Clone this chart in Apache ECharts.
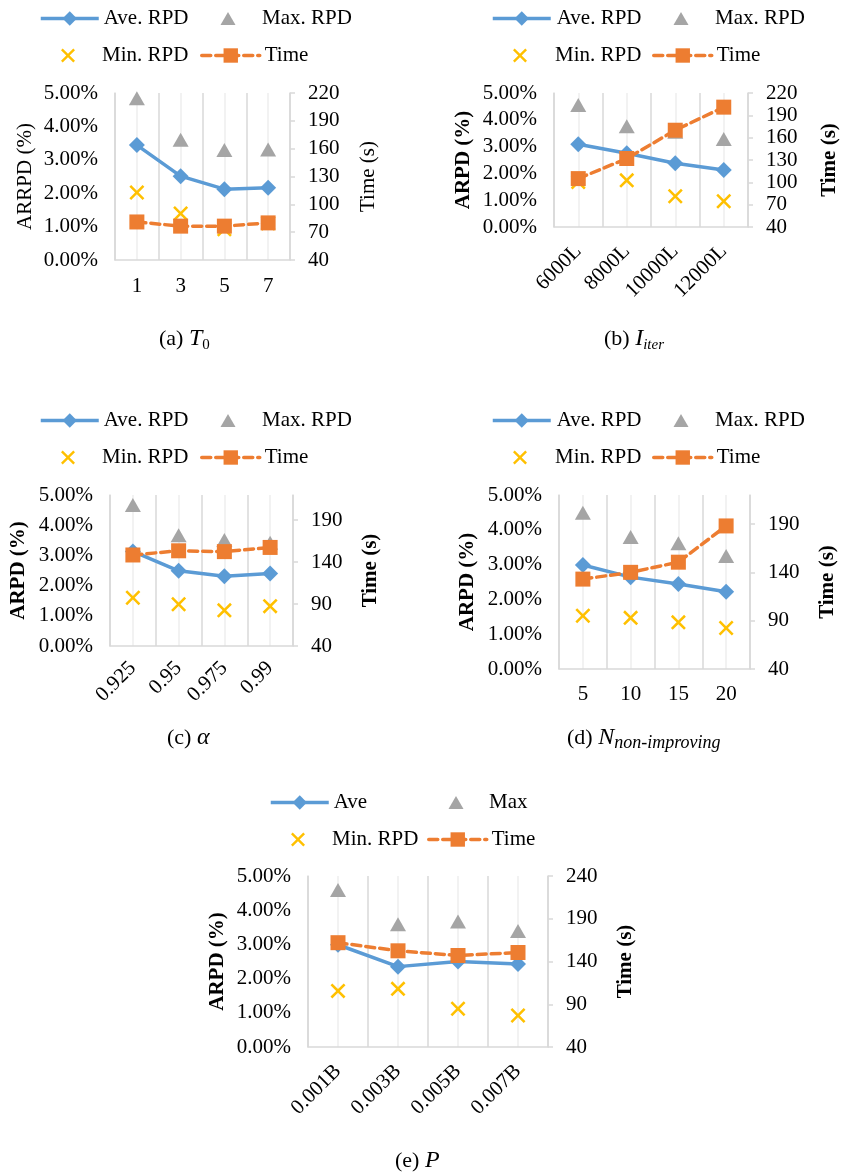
<!DOCTYPE html>
<html><head><meta charset="utf-8">
<script src="https://cdn.jsdelivr.net/npm/echarts@6/dist/echarts.min.js"></script>
<style>html,body{margin:0;padding:0;background:#fff}#c{width:841px;height:1176px}</style>
</head><body><div id="c"></div>
<script>
// ---------- data ----------
const catA = ['1', '3', '5', '7'];
const aveA = [3.44, 2.51, 2.12, 2.16];
const maxA = [4.84, 3.60, 3.29, 3.31];
const minA = [2.02, 1.39, 0.92, 1.10];
const timeA = [81, 76.5, 76.5, 80];

const catB = ['6000L', '8000L', '10000L', '12000L'];
const aveB = [3.09, 2.75, 2.38, 2.13];
const maxB = [4.55, 3.76, 3.55, 3.28];
const minB = [1.68, 1.74, 1.15, 0.96];
const timeB = [105, 132, 170, 201];

const catC = ['0.925', '0.95', '0.975', '0.99'];
const aveC = [3.13, 2.49, 2.31, 2.40];
const maxC = [4.67, 3.67, 3.51, 3.42];
const minC = [1.60, 1.38, 1.18, 1.32];
const timeC = [148.5, 153.5, 152.5, 157.5];

const catD = ['5', '10', '15', '20'];
const aveD = [2.99, 2.64, 2.44, 2.22];
const maxD = [4.49, 3.79, 3.61, 3.25];
const minD = [1.53, 1.47, 1.34, 1.18];
const timeD = [133, 140, 150.5, 188];

const catE = ['0.001B', '0.003B', '0.005B', '0.007B'];
const aveE = [2.99, 2.35, 2.50, 2.43];
const maxE = [4.59, 3.59, 3.67, 3.39];
const minE = [1.64, 1.70, 1.12, 0.92];
const timeE = [162, 152.5, 147, 150.5];

const namesStd = ['Ave. RPD', 'Max. RPD', 'Min. RPD', 'Time'];
const namesE = ['Ave', 'Max', 'Min. RPD', 'Time'];
const leftTicksFmt = v => v.toFixed(2) + '%';

// ---------- layout ----------
const FONT = 'Liberation Serif';
const AXC = '#D9D9D9';
const panels = [
  {cats: catA, ave: aveA, max: maxA, min: minA, time: timeA, names: namesStd,
   grid: {left: 115, top: 93, width: 175, height: 167}, rotate: 0, xMargin: 16,
   tmax: 220, tint: 30, showMax: true, leftName: 'ARRPD (%)', bold: 'normal', lgap: 79, rgap: 68,
   legX: [39, 228, 68, 200], legY: [17, 54], txtX: [102, 262, 102, 263],
   cap: {x: 159, y: 339, text: '{n|(a) }{i|T}{s|0}'}},
  {cats: catB, ave: aveB, max: maxB, min: minB, time: timeB, names: namesStd,
   grid: {left: 554, top: 93, width: 199, height: 134}, rotate: 45, xMargin: 21,
   tmax: 220, tint: 30, showMax: true, leftName: 'ARPD (%)', bold: 'bold', lgap: 80, rgap: 71,
   legX: [491, 681, 520, 652], legY: [17, 54], txtX: [555, 715, 555, 715],
   cap: {x: 604, y: 339, text: '{n|(b) }{i|I}{si|iter}'}},
  {cats: catC, ave: aveC, max: maxC, min: minC, time: timeC, names: namesStd,
   grid: {left: 110, top: 495, width: 183, height: 151}, rotate: 45, xMargin: 19,
   tmax: 220, tint: 50, showMax: false, leftName: 'ARPD (%)', bold: 'bold', lgap: 81, rgap: 67,
   legX: [39, 228, 68, 200], legY: [419, 456], txtX: [102, 262, 102, 263],
   cap: {x: 167, y: 738, text: '{n|(c) }{i|α}'}},
  {cats: catD, ave: aveD, max: maxD, min: minD, time: timeD, names: namesStd,
   grid: {left: 559, top: 495, width: 191, height: 174}, rotate: 0, xMargin: 15,
   tmax: 220, tint: 50, showMax: false, leftName: 'ARPD (%)', bold: 'bold', lgap: 81, rgap: 67,
   legX: [491, 681, 520, 652], legY: [419, 456], txtX: [555, 715, 555, 715],
   cap: {x: 567, y: 738, text: '{n|(d) }{i|N}{sd|non-improving}'}},
  {cats: catE, ave: aveE, max: maxE, min: minE, time: timeE, names: namesE,
   grid: {left: 308, top: 876, width: 240, height: 171}, rotate: 45, xMargin: 21,
   tmax: 240, tint: 50, showMax: true, leftName: 'ARPD (%)', bold: 'bold', lgap: 80, rgap: 67,
   legX: [269, 456, 298, 427], legY: [801, 838], txtX: [332, 489, 332, 489],
   cap: {x: 395, y: 1161, text: '{n|(e) }{i|P}'}}
];

const X_PATH = 'path://M0,1.2 L1.2,0 L5,3.8 L8.8,0 L10,1.2 L6.2,5 L10,8.8 L8.8,10 L5,6.2 L1.2,10 L0,8.8 L3.8,5 Z';
const txt = {fontFamily: FONT, fontSize: 21, color: '#000'};

const option = {animation: false, backgroundColor: '#fff', grid: [], xAxis: [], yAxis: [], series: [], legend: [], graphic: []};

panels.forEach((p, i) => {
  option.grid.push(Object.assign({containLabel: false}, p.grid));
  option.xAxis.push({
    type: 'category', gridIndex: i, data: p.cats, boundaryGap: true,
    axisLine: {show: true, lineStyle: {color: AXC, width: 1.5}},
    axisTick: {show: false},
    splitLine: {show: true, interval: 0, lineStyle: {color: AXC, width: 1.5}},
    axisLabel: Object.assign({}, txt, {interval: 0, rotate: p.rotate, margin: p.xMargin})
  });
  option.yAxis.push({
    type: 'value', gridIndex: i, position: 'left', min: 0, max: 5, interval: 1,
    axisLine: {show: true, lineStyle: {color: AXC, width: 1.5}},
    axisTick: {show: false}, splitLine: {show: false},
    axisLabel: Object.assign({}, txt, {formatter: leftTicksFmt, margin: 17}),
    name: p.leftName, nameLocation: 'middle', nameRotate: 90, nameGap: p.lgap,
    nameTextStyle: Object.assign({}, txt, {fontWeight: p.bold})
  });
  option.yAxis.push({
    type: 'value', gridIndex: i, position: 'right', min: 40, max: p.tmax, interval: p.tint,
    axisLine: {show: true, lineStyle: {color: AXC, width: 1.5}},
    axisTick: {show: true, inside: false, length: 5, lineStyle: {color: AXC, width: 1.5}},
    splitLine: {show: false},
    axisLabel: Object.assign({}, txt, {margin: 18, showMaxLabel: p.showMax}),
    name: 'Time (s)', nameLocation: 'middle', nameRotate: 90, nameGap: p.rgap,
    nameTextStyle: Object.assign({}, txt, {fontWeight: p.bold})
  });
  option.series.push({
    name: p.names[0], type: 'line', xAxisIndex: i, yAxisIndex: 2 * i, data: p.ave,
    symbol: 'diamond', symbolSize: 16,
    lineStyle: {color: '#5B9BD5', width: 3.5}, itemStyle: {color: '#5B9BD5', borderWidth: 0},
    markLine: {silent: true, z: 0, symbol: ['none', 'none'], label: {show: false},
      lineStyle: {color: '#EEEEEE', width: 1.5, type: 'solid'},
      emphasis: {disabled: true},
      data: p.cats.map(c => ({xAxis: c}))},
    z: 3
  });
  option.series.push({
    name: p.names[1], type: 'scatter', xAxisIndex: i, yAxisIndex: 2 * i, data: p.max,
    symbol: 'triangle', symbolSize: [16, 14], itemStyle: {color: '#A5A5A5', opacity: 1}, z: 4
  });
  option.series.push({
    name: p.names[2], type: 'scatter', xAxisIndex: i, yAxisIndex: 2 * i, data: p.min,
    symbol: X_PATH, symbolSize: 15, itemStyle: {color: '#FFC000', opacity: 1}, z: 4
  });
  option.series.push({
    name: p.names[3], type: 'line', xAxisIndex: i, yAxisIndex: 2 * i + 1, data: p.time,
    symbol: 'rect', symbolSize: 15,
    lineStyle: {color: '#ED7D31', width: 3.5, type: [9, 5], cap: 'round'},
    itemStyle: {color: '#ED7D31', borderWidth: 0}, z: 5
  });
  // legend items: lines get wide icon, markers get square icon + padded text
  p.names.forEach((nm, k) => {
    const isLine = (k === 0 || k === 3);
    const w = isLine ? 58 : (k === 1 ? 15 : 14);
    const h = isLine ? 18 : (k === 1 ? 13 : 14);
    const left = isLine ? p.legX[k] : p.legX[k] - w / 2;
    const pad = p.txtX[k] - (left + w + 5);
    option.legend.push({
      data: [nm], left: left, top: p.legY[Math.floor(k / 2)] - 9, padding: 0,
      itemWidth: w, itemHeight: h, selectedMode: false,
      lineStyle: {width: 3.5},
      textStyle: Object.assign({}, txt, {padding: [0, 0, 0, Math.max(0, pad)]})
    });
  });
  option.graphic.push({
    type: 'text', x: p.cap.x, y: p.cap.y,
    style: {
      text: p.cap.text, fill: '#000', verticalAlign: 'middle', align: 'left',
      rich: {
        n: {fontFamily: FONT, fontSize: 22, fill: '#000'},
        i: {fontFamily: FONT, fontSize: 24, fontStyle: 'italic', fill: '#000'},
        s: {fontFamily: FONT, fontSize: 15, fill: '#000', padding: [13, 0, 0, 0]},
        si: {fontFamily: FONT, fontSize: 15, fontStyle: 'italic', fill: '#000', padding: [13, 0, 0, 0]},
        sd: {fontFamily: FONT, fontSize: 18, fontStyle: 'italic', fill: '#000', padding: [11, 0, 0, 0]}
      }
    }
  });
});

const chart = echarts.init(document.getElementById('c'), null, {renderer: 'canvas'});
chart.setOption(option);
</script>
</body></html>
